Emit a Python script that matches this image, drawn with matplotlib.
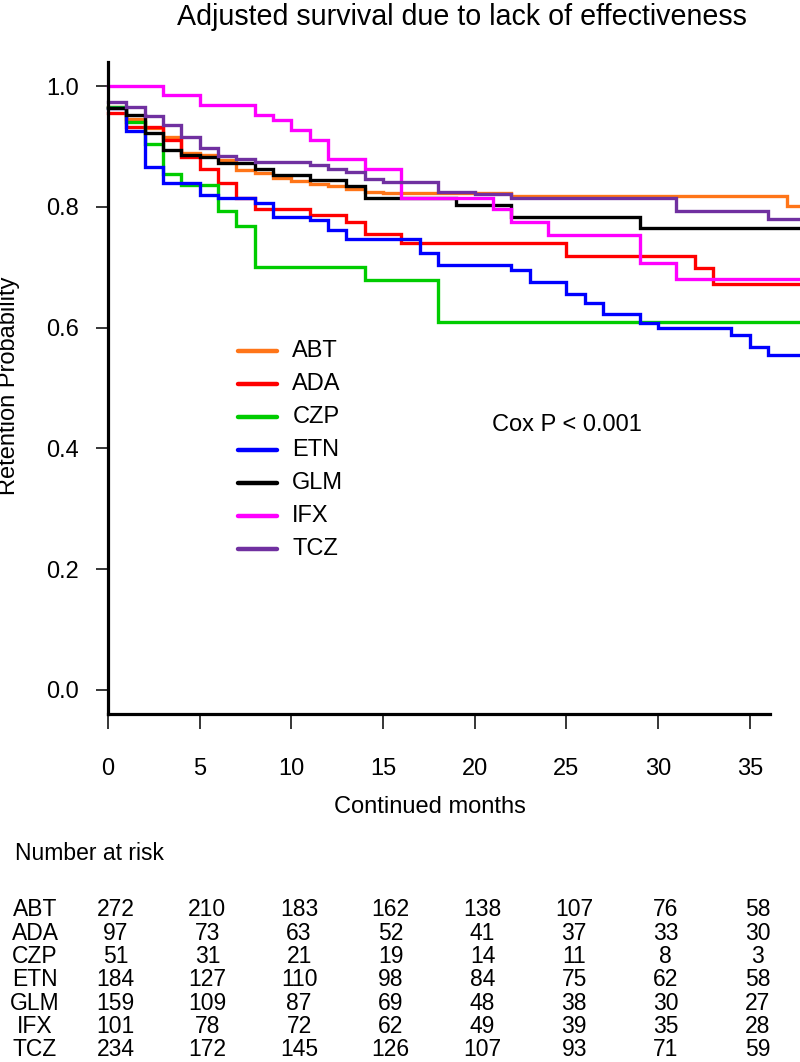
import matplotlib
matplotlib.use("Agg")
import matplotlib.pyplot as plt
from matplotlib.transforms import blended_transform_factory

plt.rcParams['font.family'] = ['Liberation Sans', 'DejaVu Sans']

drugs = ["ABT", "ADA", "CZP", "ETN", "GLM", "IFX", "TCZ"]
line_colors = ["#ff7518", "#ff0000", "#00cc00", "#0000ff", "#000000", "#ff00ff", "#7030a0"]

# step curves: month where each step starts, and retention from there on
abt_t = [0, 1, 2, 3, 4, 5, 6, 7, 8, 9, 10, 11, 12, 13, 14, 15, 22, 37]
abt_s = [0.966, 0.946, 0.930, 0.915, 0.889, 0.886, 0.877, 0.861, 0.856, 0.848,
         0.843, 0.838, 0.834, 0.829, 0.825, 0.823, 0.818, 0.801]
ada_t = [0, 1, 3, 4, 5, 6, 7, 8, 11, 13, 14, 16, 25, 32, 33]
ada_s = [0.956, 0.933, 0.911, 0.882, 0.862, 0.839, 0.815, 0.797, 0.786, 0.775,
         0.755, 0.740, 0.718, 0.699, 0.673]
czp_t = [0, 1, 2, 3, 4, 6, 7, 8, 14, 18]
czp_s = [0.965, 0.941, 0.905, 0.855, 0.836, 0.794, 0.768, 0.700, 0.679, 0.610]
etn_t = [0, 1, 2, 3, 5, 6, 8, 9, 11, 12, 13, 17, 18, 22, 23, 25, 26, 27, 29, 30,
         34, 35, 36]
etn_s = [0.964, 0.926, 0.866, 0.839, 0.819, 0.814, 0.806, 0.783, 0.778, 0.761,
         0.746, 0.723, 0.703, 0.695, 0.676, 0.656, 0.640, 0.622, 0.608, 0.600,
         0.588, 0.568, 0.554]
glm_t = [0, 1, 2, 3, 4, 5, 6, 8, 9, 11, 13, 14, 19, 22, 29]
glm_s = [0.963, 0.952, 0.922, 0.895, 0.886, 0.883, 0.873, 0.863, 0.853, 0.845,
         0.835, 0.814, 0.803, 0.783, 0.765]
ifx_t = [0, 3, 5, 8, 9, 10, 11, 12, 14, 16, 21, 22, 24, 29, 31]
ifx_s = [1.000, 0.985, 0.968, 0.953, 0.944, 0.927, 0.910, 0.879, 0.862, 0.814,
         0.797, 0.775, 0.753, 0.707, 0.680]
tcz_t = [0, 1, 2, 3, 4, 5, 6, 7, 8, 11, 12, 13, 14, 15, 18, 20, 22, 31, 36]
tcz_s = [0.973, 0.966, 0.951, 0.935, 0.916, 0.898, 0.885, 0.880, 0.875, 0.869,
         0.862, 0.858, 0.847, 0.841, 0.825, 0.821, 0.815, 0.793, 0.780]
end_month = 37.8

times = [abt_t, ada_t, czp_t, etn_t, glm_t, ifx_t, tcz_t]
surv = [abt_s, ada_s, czp_s, etn_s, glm_s, ifx_s, tcz_s]

risk_months = [0, 5, 10, 15, 20, 25, 30, 35]
risk = [
    [272, 210, 183, 162, 138, 107, 76, 58],
    [97, 73, 63, 52, 41, 37, 33, 30],
    [51, 31, 21, 19, 14, 11, 8, 3],
    [184, 127, 110, 98, 84, 75, 62, 58],
    [159, 109, 87, 69, 48, 38, 30, 27],
    [101, 78, 72, 62, 49, 39, 35, 28],
    [234, 172, 145, 126, 107, 93, 71, 59],
]

W, H = 800, 1062
fig = plt.figure(figsize=(W / 100, H / 100), dpi=100)

def fy(px):
    return 1 - px / H

left, right, top, bottom = 108, 770, 62, 714
ax = fig.add_axes([left / W, fy(bottom), (right - left) / W, (bottom - top) / H])
ax.set_xlim(0, 36.1)
ax.set_ylim(-0.04, 1.04)

for t, s, c in zip(times, surv, line_colors):
    ax.step(t + [end_month], s + [s[-1]], where='post', color=c, lw=2.4,
            clip_on=False, solid_joinstyle='miter')

for side in ['top', 'right']:
    ax.spines[side].set_visible(False)
for side in ['left', 'bottom']:
    ax.spines[side].set_linewidth(2.3)
ax.set_xticks(risk_months)
ax.set_yticks([0.0, 0.2, 0.4, 0.6, 0.8, 1.0])
ax.set_yticklabels(["0.0", "0.2", "0.4", "0.6", "0.8", "1.0"])
ax.tick_params(axis='both', direction='out', width=1.1, labelsize=17)
ax.tick_params(axis='x', length=10.5, pad=21)
ax.tick_params(axis='y', length=9, pad=12)

# legend
leg_y0, leg_dy = 0.561, 0.0547
for i, (name, c) in enumerate(zip(drugs, line_colors)):
    yy = leg_y0 - i * leg_dy
    ax.plot([7.1, 9.2], [yy, yy], color=c, lw=3.2, solid_capstyle='round')
    ax.text(10.05, yy, name, fontsize=17, va='center', ha='left')

ax.text(25.0, 0.438, "Cox P < 0.001", fontsize=17, ha='center', va='center')

fig.text(462 / W, fy(17), "Adjusted survival due to lack of effectiveness",
         fontsize=20.6, ha='center', va='center')
fig.text(9 / W, fy(386), "Retention Probability", rotation=90, fontsize=17,
         ha='center', va='center')
fig.text(430 / W, fy(807), "Continued months", fontsize=17,
         ha='center', va='center')

# number at risk table
fig.text(15 / W, fy(853), "Number at risk", fontsize=16.5, ha='left', va='center')
tr = blended_transform_factory(ax.transData, fig.transFigure)
row_y = [910, 933.3, 956.7, 980, 1003.3, 1026.7, 1050]
for name, counts, yp in zip(drugs, risk, row_y):
    fig.text(35 / W, fy(yp), name, fontsize=16.5, ha='center', va='center')
    for m, n in zip(risk_months, counts):
        ax.text(m + 0.42, fy(yp), str(n), fontsize=16.5, ha='center', va='center',
                transform=tr, clip_on=False)

fig.savefig("out.png", dpi=100)
